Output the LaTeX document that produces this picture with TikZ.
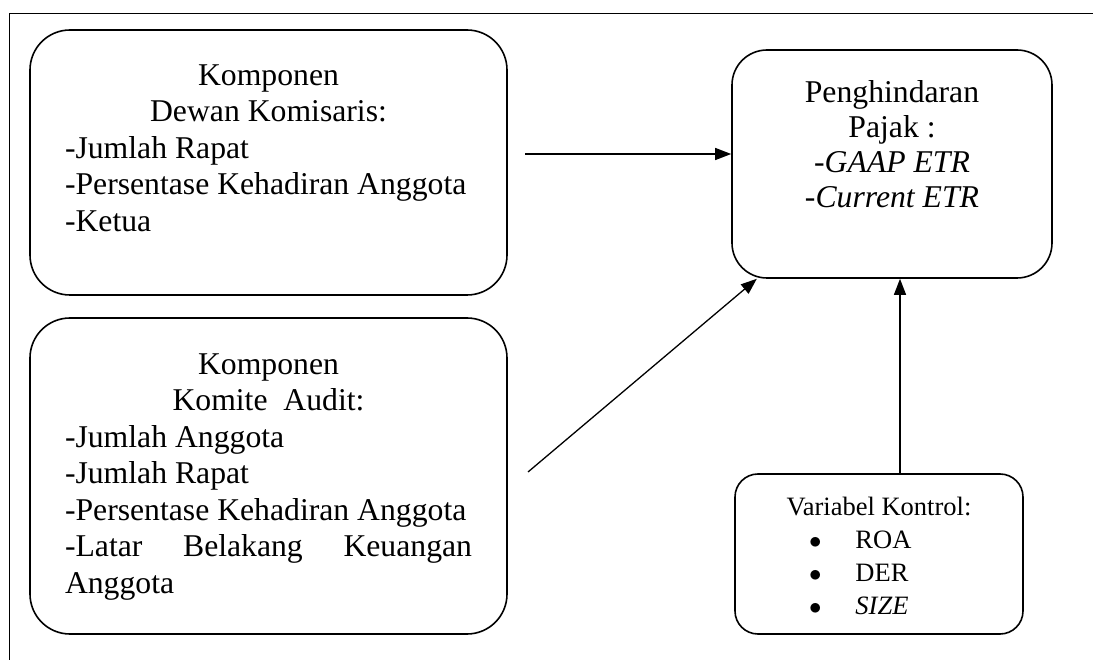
\documentclass[tikz,border=0pt]{standalone}
\usepackage{fontspec}
\setmainfont{Liberation Serif}
\usetikzlibrary{arrows.meta}
\usetikzlibrary{positioning}
\tikzset{
  >={Triangle[length=16pt,width=12pt]},
  box/.style = {draw, line width=1.6pt, inner sep=0pt},
  link/.style = {->, line width=1.3pt},
  frame/.style = {line width=1pt},
}
\newcommand{\bigtext}{\fontsize{31.7}{36.5}\selectfont}
\newcommand{\midline}[1]{\leavevmode\hspace*{\fill}#1\hspace*{\fill}\\}

\begin{document}
\begin{tikzpicture}[x=1pt, y=-1pt]
    \useasboundingbox (0,0) rectangle (1093,660);
    \draw [frame] (1093,14) -- (9,14) -- (9,660);

    \node [box, rounded corners=40pt, minimum width=477pt, minimum height=265pt] (dewan) at (268.5,162.5)
      {\parbox[c][196pt][t]{407pt}{\bigtext
        \midline{Komponen}
        \midline{Dewan Komisaris:}
        -Jumlah Rapat\\
        -Persentase Kehadiran Anggota\\
        -Ketua}};
    \node [box, rounded corners=40pt, minimum width=477pt, minimum height=316pt] (komite) at (268.5,476)
      {\parbox[c][245pt][t]{407pt}{\bigtext
        \midline{Komponen}
        \midline{Komite~~Audit:}
        -Jumlah Anggota\\
        -Jumlah Rapat\\
        -Persentase Kehadiran Anggota\\
        -Latar\hfill Belakang\hfill Keuangan\\
        Anggota}};
    \node [box, rounded corners=35pt, minimum width=320pt, minimum height=228pt] (pajak) at (892,164)
      {\parbox[c][166pt][t]{300pt}{\fontsize{31.7}{35}\selectfont\centering
        Penghindaran\\
        Pajak :\\
        -\textit{GAAP ETR}\\
        -\textit{Current ETR}\par}};
    \node [box, rounded corners=23pt, minimum width=288pt, minimum height=160pt] (kontrol) at (879,554)
      {\parbox[c][113pt][t]{240pt}{\fontsize{26.5}{33}\selectfont
        \midline{Variabel Kontrol:}
        \hspace*{50pt}$\bullet$\hspace{34pt}ROA\\
        \hspace*{50pt}$\bullet$\hspace{34pt}DER\\
        \hspace*{50pt}$\bullet$\hspace{34pt}\textit{SIZE}}};

    \coordinate (a1) at (525,154);
    \coordinate (a2) at (528,472);
    \coordinate (a3) at (900,474);
    \draw [link] (a1) -- (a1 -| pajak.west);
    \draw [link] (a2) -- (pajak);
    \draw [link] (a3) -- (a3 |- pajak.south);
\end{tikzpicture}
\end{document}
